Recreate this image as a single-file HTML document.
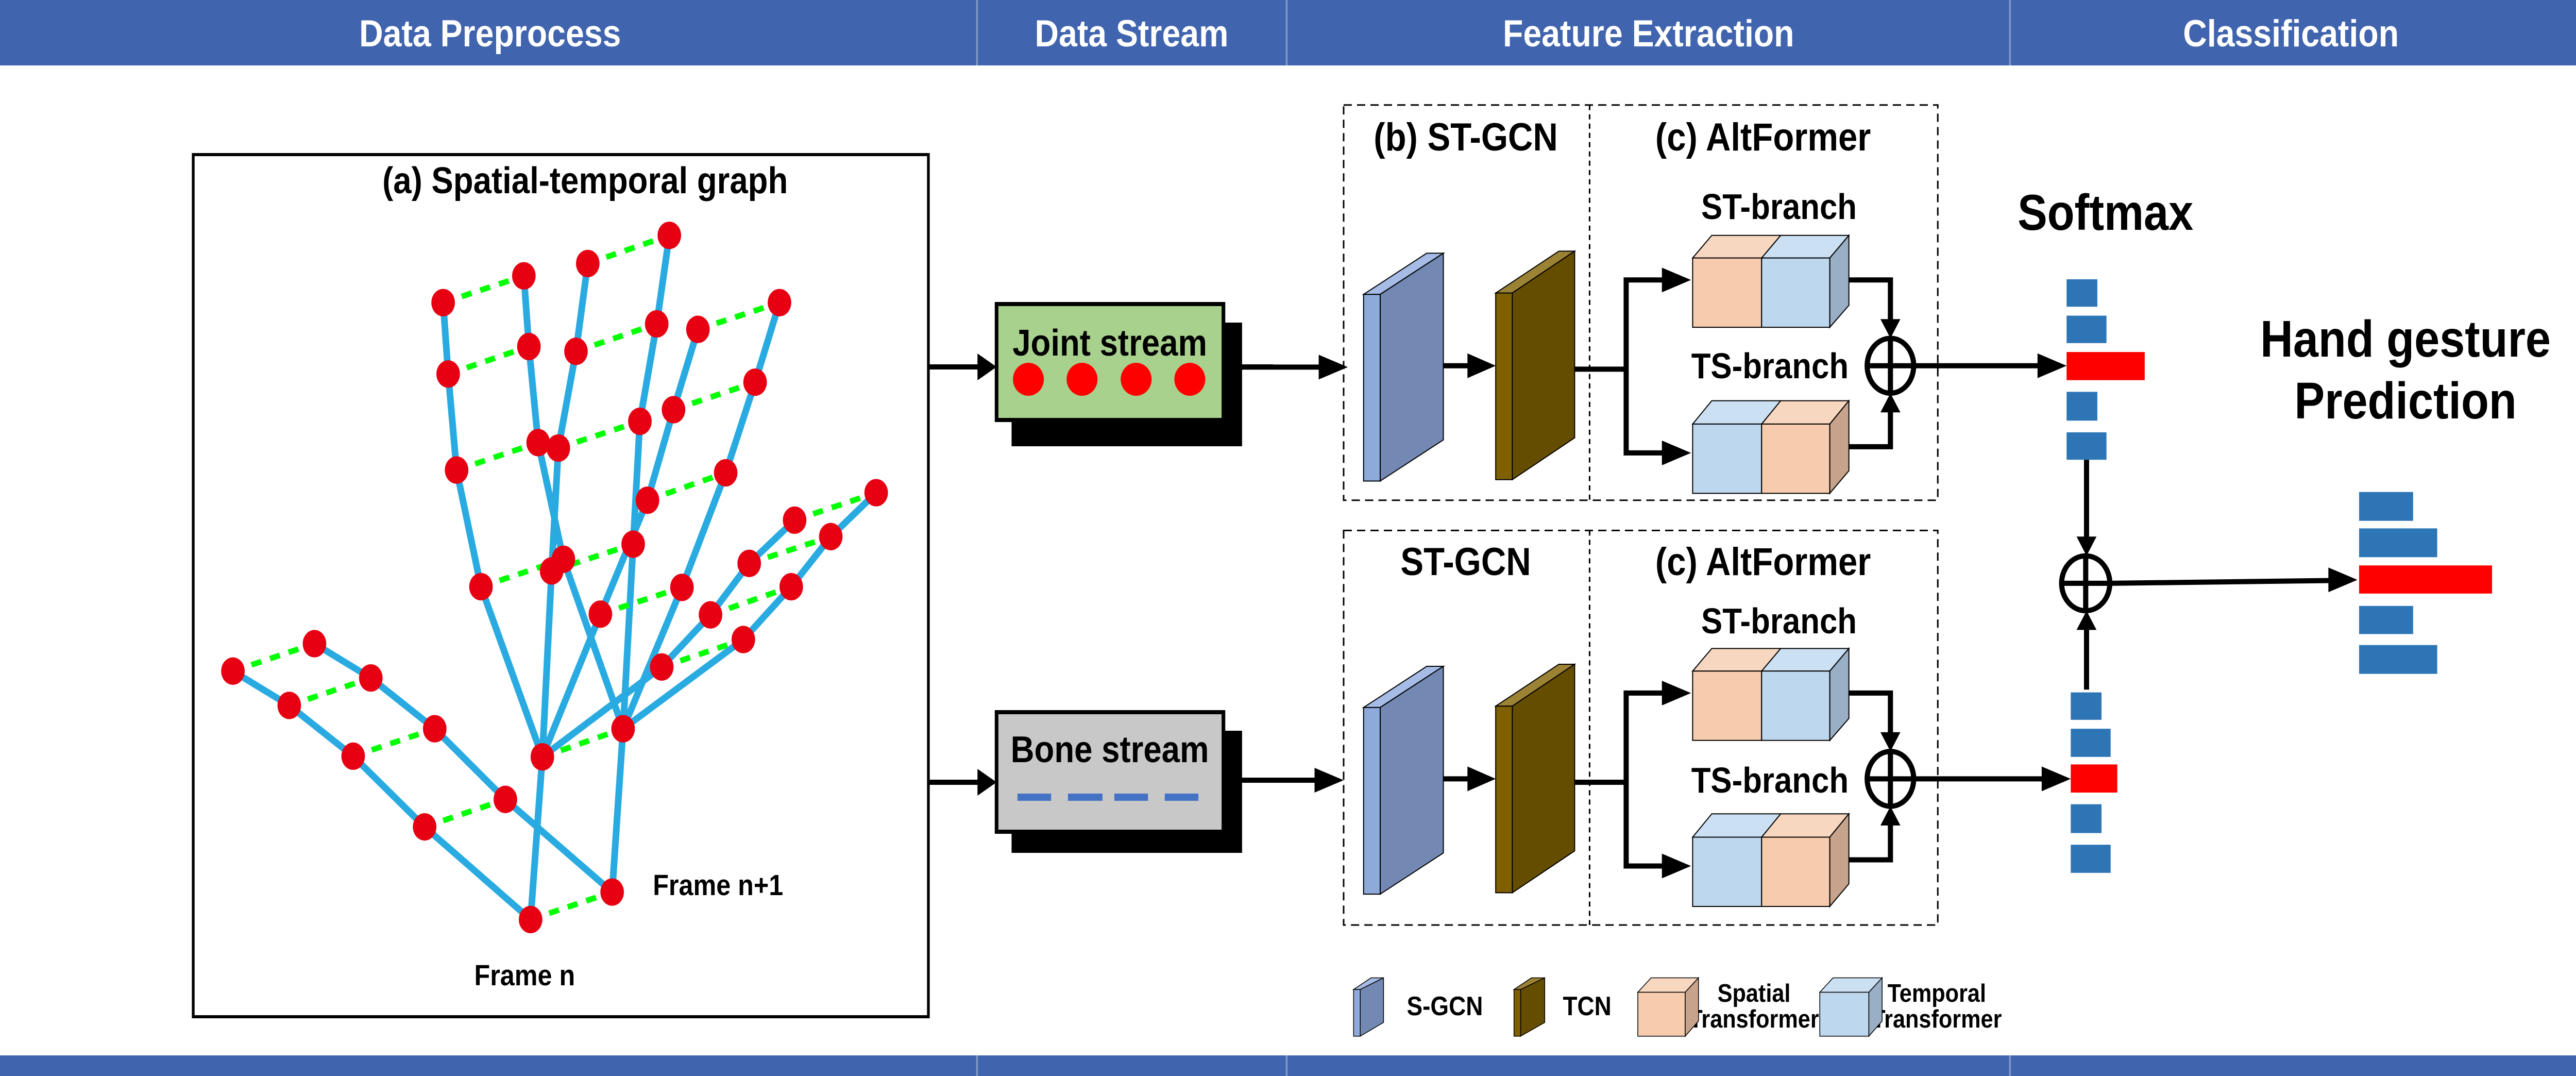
<!DOCTYPE html>
<html><head><meta charset="utf-8"><style>
html,body{margin:0;padding:0;background:#fff;width:100vw;height:100vh;overflow:hidden;}
svg{display:block;width:100vw;height:100vh;}
text{font-family:"Liberation Sans",Arial,sans-serif;font-weight:bold;}
</style></head><body>
<svg viewBox="0 0 5666 2088" preserveAspectRatio="none" xmlns="http://www.w3.org/2000/svg">
<rect x="0" y="0" width="5666" height="127" fill="#4064ad"/>
<rect x="0" y="2048" width="5666" height="40" fill="#4064ad"/>
<g stroke="#7f98c8" stroke-width="4">
<line x1="2149" y1="0" x2="2149" y2="127"/><line x1="2830" y1="0" x2="2830" y2="127"/><line x1="4421" y1="0" x2="4421" y2="127"/>
<line x1="2149" y1="2048" x2="2149" y2="2088"/><line x1="2830" y1="2048" x2="2830" y2="2088"/><line x1="4421" y1="2048" x2="4421" y2="2088"/>
</g>
<g fill="#fff" font-size="73" text-anchor="middle">
<text x="1078" y="90">Data Preprocess</text>
<text x="2489" y="90">Data Stream</text>
<text x="3626" y="90">Feature Extraction</text>
<text x="5039" y="90">Classification</text>
</g>

<rect x="425" y="300" width="1617" height="1673" fill="#fff" stroke="#000" stroke-width="6"/>
<text x="1287" y="375" font-size="72" text-anchor="middle">(a) Spatial-temporal graph</text>
<text x="1436" y="1737" font-size="57">Frame n+1</text>
<text x="1154" y="1912" font-size="57" text-anchor="middle">Frame n</text>

<g transform="scale(1.8495,1.3316)">
<g fill="none" stroke="#29abe2" stroke-width="13" stroke-linejoin="round">
<polyline vector-effect="non-scaling-stroke" points="631,1340 505,1205 420,1102 344,1028 277,978"/>
<polyline vector-effect="non-scaling-stroke" points="728,1300 601,1165 517,1062 441,988 374,938"/>
<polyline vector-effect="non-scaling-stroke" points="631,1340 645,1103"/>
<polyline vector-effect="non-scaling-stroke" points="728,1300 741,1062"/>
<polyline vector-effect="non-scaling-stroke" points="645,1103 572,855 543,685 533,545 527,441"/>
<polyline vector-effect="non-scaling-stroke" points="645,1103 656,832 664,653 685,512 699,384"/>
<polyline vector-effect="non-scaling-stroke" points="645,1103 714,895 770,729 801,597 830,480"/>
<polyline vector-effect="non-scaling-stroke" points="645,1103 787,972 845,896 891,821 945,758"/>
<polyline vector-effect="non-scaling-stroke" points="741,1062 670,815 640,645 629,505 623,402"/>
<polyline vector-effect="non-scaling-stroke" points="741,1062 753,793 761,614 781,472 796,343"/>
<polyline vector-effect="non-scaling-stroke" points="741,1062 811,856 863,689 898,557 927,441"/>
<polyline vector-effect="non-scaling-stroke" points="741,1062 884,932 941,855 988,782 1042,718"/>
</g>
<g stroke="#00ff00" stroke-width="11" stroke-dasharray="20 18">
<line vector-effect="non-scaling-stroke" x1="277" y1="978" x2="374" y2="938"/>
<line vector-effect="non-scaling-stroke" x1="344" y1="1028" x2="441" y2="988"/>
<line vector-effect="non-scaling-stroke" x1="420" y1="1102" x2="517" y2="1062"/>
<line vector-effect="non-scaling-stroke" x1="505" y1="1205" x2="601" y2="1165"/>
<line vector-effect="non-scaling-stroke" x1="631" y1="1340" x2="728" y2="1300"/>
<line vector-effect="non-scaling-stroke" x1="645" y1="1103" x2="741" y2="1062"/>
<line vector-effect="non-scaling-stroke" x1="527" y1="441" x2="623" y2="402"/>
<line vector-effect="non-scaling-stroke" x1="533" y1="545" x2="629" y2="505"/>
<line vector-effect="non-scaling-stroke" x1="543" y1="685" x2="640" y2="645"/>
<line vector-effect="non-scaling-stroke" x1="572" y1="855" x2="670" y2="815"/>
<line vector-effect="non-scaling-stroke" x1="699" y1="384" x2="796" y2="343"/>
<line vector-effect="non-scaling-stroke" x1="685" y1="512" x2="781" y2="472"/>
<line vector-effect="non-scaling-stroke" x1="664" y1="653" x2="761" y2="614"/>
<line vector-effect="non-scaling-stroke" x1="656" y1="832" x2="753" y2="793"/>
<line vector-effect="non-scaling-stroke" x1="714" y1="895" x2="811" y2="856"/>
<line vector-effect="non-scaling-stroke" x1="770" y1="729" x2="863" y2="689"/>
<line vector-effect="non-scaling-stroke" x1="801" y1="597" x2="898" y2="557"/>
<line vector-effect="non-scaling-stroke" x1="830" y1="480" x2="927" y2="441"/>
<line vector-effect="non-scaling-stroke" x1="787" y1="972" x2="884" y2="932"/>
<line vector-effect="non-scaling-stroke" x1="845" y1="896" x2="941" y2="855"/>
<line vector-effect="non-scaling-stroke" x1="891" y1="821" x2="988" y2="782"/>
<line vector-effect="non-scaling-stroke" x1="945" y1="758" x2="1042" y2="718"/>
</g>
<g fill="#e60012">
<ellipse cx="277" cy="978" rx="14" ry="20"/><ellipse cx="344" cy="1028" rx="14" ry="20"/><ellipse cx="420" cy="1102" rx="14" ry="20"/><ellipse cx="505" cy="1205" rx="14" ry="20"/><ellipse cx="631" cy="1340" rx="14" ry="20"/>
<ellipse cx="374" cy="938" rx="14" ry="20"/><ellipse cx="441" cy="988" rx="14" ry="20"/><ellipse cx="517" cy="1062" rx="14" ry="20"/><ellipse cx="601" cy="1165" rx="14" ry="20"/><ellipse cx="728" cy="1300" rx="14" ry="20"/>
<ellipse cx="645" cy="1103" rx="14" ry="20"/><ellipse cx="741" cy="1062" rx="14" ry="20"/>
<ellipse cx="572" cy="855" rx="14" ry="20"/><ellipse cx="543" cy="685" rx="14" ry="20"/><ellipse cx="533" cy="545" rx="14" ry="20"/><ellipse cx="527" cy="441" rx="14" ry="20"/>
<ellipse cx="656" cy="832" rx="14" ry="20"/><ellipse cx="664" cy="653" rx="14" ry="20"/><ellipse cx="685" cy="512" rx="14" ry="20"/><ellipse cx="699" cy="384" rx="14" ry="20"/>
<ellipse cx="714" cy="895" rx="14" ry="20"/><ellipse cx="770" cy="729" rx="14" ry="20"/><ellipse cx="801" cy="597" rx="14" ry="20"/><ellipse cx="830" cy="480" rx="14" ry="20"/>
<ellipse cx="787" cy="972" rx="14" ry="20"/><ellipse cx="845" cy="896" rx="14" ry="20"/><ellipse cx="891" cy="821" rx="14" ry="20"/><ellipse cx="945" cy="758" rx="14" ry="20"/>
<ellipse cx="670" cy="815" rx="14" ry="20"/><ellipse cx="640" cy="645" rx="14" ry="20"/><ellipse cx="629" cy="505" rx="14" ry="20"/><ellipse cx="623" cy="402" rx="14" ry="20"/>
<ellipse cx="753" cy="793" rx="14" ry="20"/><ellipse cx="761" cy="614" rx="14" ry="20"/><ellipse cx="781" cy="472" rx="14" ry="20"/><ellipse cx="796" cy="343" rx="14" ry="20"/>
<ellipse cx="811" cy="856" rx="14" ry="20"/><ellipse cx="863" cy="689" rx="14" ry="20"/><ellipse cx="898" cy="557" rx="14" ry="20"/><ellipse cx="927" cy="441" rx="14" ry="20"/>
<ellipse cx="884" cy="932" rx="14" ry="20"/><ellipse cx="941" cy="855" rx="14" ry="20"/><ellipse cx="988" cy="782" rx="14" ry="20"/><ellipse cx="1042" cy="718" rx="14" ry="20"/>
</g>
</g>

<rect x="2225" y="626" width="507" height="240" fill="#000"/>
<rect x="2192" y="590" width="499" height="225" fill="#a9d18e" stroke="#000" stroke-width="8"/>
<text x="2441" y="690" font-size="72" text-anchor="middle">Joint stream</text>
<g fill="#ff0000"><ellipse cx="2262" cy="736" rx="34" ry="32"/><ellipse cx="2380" cy="736" rx="34" ry="32"/><ellipse cx="2499" cy="736" rx="34" ry="32"/><ellipse cx="2617" cy="736" rx="34" ry="32"/></g>
<rect x="2225" y="1418" width="507" height="237" fill="#000"/>
<rect x="2192" y="1382" width="499" height="232" fill="#c8c8c8" stroke="#000" stroke-width="8"/>
<text x="2441" y="1479" font-size="72" text-anchor="middle">Bone stream</text>
<g stroke="#4472c4" stroke-width="14"><line x1="2238" y1="1547" x2="2312" y2="1547"/><line x1="2349" y1="1547" x2="2425" y2="1547"/><line x1="2451" y1="1547" x2="2525" y2="1547"/><line x1="2562" y1="1547" x2="2636" y2="1547"/></g>
<g stroke="#000" stroke-width="10"><line x1="2042" y1="712" x2="2160" y2="712"/><line x1="2042" y1="1518" x2="2160" y2="1518"/></g>
<polygon points="2150,686 2192,712 2150,738" fill="#000"/>
<polygon points="2150,1492 2192,1518 2150,1544" fill="#000"/>

<g font-size="76" text-anchor="middle">
<text x="3224" y="292">(b) ST-GCN</text>
<text x="3878" y="292">(c) AltFormer</text>
<text x="3913" y="425" font-size="70">ST-branch</text>
<text x="3893" y="734" font-size="70">TS-branch</text>
<text x="3224" y="1116">ST-GCN</text>
<text x="3878" y="1116">(c) AltFormer</text>
<text x="3913" y="1229" font-size="70">ST-branch</text>
<text x="3893" y="1538" font-size="70">TS-branch</text>
<text x="4631" y="446" font-size="98">Softmax</text>
<text x="5291" y="692" font-size="100">Hand gesture</text>
<text x="5291" y="812" font-size="100">Prediction</text>
</g>
<g font-size="52" text-anchor="middle">
<text x="3178" y="1970">S-GCN</text>
<text x="3491" y="1970">TCN</text>
<text x="3858" y="1944" font-size="49">Spatial</text>
<text x="3858" y="1994" font-size="49">Transformer</text>
<text x="4260" y="1944" font-size="49">Temporal</text>
<text x="4260" y="1994" font-size="49">Transformer</text>
</g>

<g transform="translate(2800,0) scale(1.8278,1.3316)">
<g fill="none" stroke="#000" stroke-width="3" stroke-dasharray="16 10">
<rect vector-effect="non-scaling-stroke" x="85" y="153" width="715" height="576"/>
<line vector-effect="non-scaling-stroke" x1="381" y1="153" x2="381" y2="729" stroke-dasharray="10 8"/>
<rect vector-effect="non-scaling-stroke" x="85" y="773" width="715" height="575"/>
<line vector-effect="non-scaling-stroke" x1="381" y1="773" x2="381" y2="1348" stroke-dasharray="10 8"/>
</g>
<g id="unit">
<g stroke="#000" stroke-width="2">
<polygon vector-effect="non-scaling-stroke" points="109,429 185,369 205,369 129,429" fill="#a6bce6"/>
<polygon vector-effect="non-scaling-stroke" points="129,429 205,369 205,641 129,701" fill="#7389b3"/>
<rect vector-effect="non-scaling-stroke" x="109" y="429" width="20" height="272" fill="#8eaadb"/>
<polygon vector-effect="non-scaling-stroke" points="268,427 344,366 363,366 288,427" fill="#9c8235"/>
<polygon vector-effect="non-scaling-stroke" points="288,427 363,366 363,638 288,699" fill="#654d00"/>
<rect vector-effect="non-scaling-stroke" x="268" y="427" width="20" height="272" fill="#7f6000"/>
<polygon vector-effect="non-scaling-stroke" points="505,376 528,343 611,343 588,376" fill="#f8d7c1"/>
<polygon vector-effect="non-scaling-stroke" points="588,376 611,343 693,343 670,376" fill="#cce0f4"/>
<polygon vector-effect="non-scaling-stroke" points="670,376 693,343 693,445 670,477" fill="#99afc5"/>
<rect vector-effect="non-scaling-stroke" x="505" y="376" width="83" height="101" fill="#f7cbad"/>
<rect vector-effect="non-scaling-stroke" x="588" y="376" width="82" height="101" fill="#bdd7ee"/>
<polygon vector-effect="non-scaling-stroke" points="505,618 528,584 611,584 588,618" fill="#cce0f4"/>
<polygon vector-effect="non-scaling-stroke" points="588,618 611,584 693,584 670,618" fill="#f8d7c1"/>
<polygon vector-effect="non-scaling-stroke" points="670,618 693,584 693,686 670,719" fill="#c8a38b"/>
<rect vector-effect="non-scaling-stroke" x="505" y="618" width="83" height="101" fill="#bdd7ee"/>
<rect vector-effect="non-scaling-stroke" x="588" y="618" width="82" height="101" fill="#f7cbad"/>
</g>
<g fill="none" stroke="#000" stroke-width="10">
<line vector-effect="non-scaling-stroke" x1="205" y1="533" x2="240" y2="533"/>
<polyline vector-effect="non-scaling-stroke" points="363,538 425,538"/>
<polyline vector-effect="non-scaling-stroke" points="470,408 425,408 425,660 470,660"/>
<polyline vector-effect="non-scaling-stroke" points="693,408 743,408 743,470"/>
<polyline vector-effect="non-scaling-stroke" points="693,651 743,651 743,595"/>
<ellipse vector-effect="non-scaling-stroke" cx="743" cy="533" rx="28" ry="40"/>
<line vector-effect="non-scaling-stroke" x1="743" y1="493" x2="743" y2="573"/>
<line vector-effect="non-scaling-stroke" x1="715" y1="533" x2="771" y2="533"/>
</g>
<g fill="#000">
<polygon points="234,515 268,533 234,551"/>
<polygon points="468,390 503,408 468,426"/>
<polygon points="468,642 503,660 468,678"/>
<polygon points="731,465 743,493 755,465"/>
<polygon points="731,601 743,573 755,601"/>
</g>
</g>
<use href="#unit" transform="translate(0,602)"/>
<g stroke="#000" stroke-width="10">
<line vector-effect="non-scaling-stroke" x1="-40" y1="535" x2="60" y2="535"/>
<line vector-effect="non-scaling-stroke" x1="-40" y1="1137" x2="55" y2="1137"/>
<line vector-effect="non-scaling-stroke" x1="771" y1="533" x2="925" y2="533"/>
<line vector-effect="non-scaling-stroke" x1="771" y1="1135" x2="930" y2="1135"/>
<line vector-effect="non-scaling-stroke" x1="979" y1="670" x2="979" y2="785"/>
<line vector-effect="non-scaling-stroke" x1="979" y1="1005" x2="979" y2="915"/>
<line vector-effect="non-scaling-stroke" x1="1008" y1="850" x2="1275" y2="846"/>
<ellipse vector-effect="non-scaling-stroke" cx="978" cy="850" rx="29" ry="40" fill="none"/>
<line vector-effect="non-scaling-stroke" x1="978" y1="810" x2="978" y2="890"/>
<line vector-effect="non-scaling-stroke" x1="949" y1="850" x2="1007" y2="850"/>
</g>
<g fill="#000">
<polygon points="55,517 90,535 55,553"/>
<polygon points="50,1119 85,1137 50,1155"/>
<polygon points="920,515 955,533 920,551"/>
<polygon points="925,1117 960,1135 925,1153"/>
<polygon points="967,782 979,810 991,782"/>
<polygon points="967,918 979,890 991,918"/>
<polygon points="1270,827 1305,845 1270,863"/>
</g>
<g fill="#2e75b6">
<rect x="955" y="407" width="37" height="40"/><rect x="955" y="460" width="48" height="40"/><rect x="955" y="571" width="37" height="42"/><rect x="955" y="630" width="48" height="40"/>
<rect x="960" y="1009" width="37" height="40"/><rect x="960" y="1062" width="48" height="41"/><rect x="960" y="1172" width="37" height="42"/><rect x="960" y="1231" width="48" height="41"/>
<rect x="1307" y="717" width="65" height="42"/><rect x="1307" y="770" width="94" height="42"/><rect x="1307" y="883" width="65" height="41"/><rect x="1307" y="940" width="94" height="42"/>
</g>
<g fill="#ff0000">
<rect x="955" y="513" width="94" height="41"/><rect x="960" y="1114" width="56" height="41"/><rect x="1307" y="824" width="160" height="41"/>
</g>
<g stroke="#000" stroke-width="1.5">
<polygon vector-effect="non-scaling-stroke" points="97,1442 118,1425 133,1425 105,1442" fill="#a6bce6"/>
<polygon vector-effect="non-scaling-stroke" points="105,1442 133,1425 133,1490 105,1510" fill="#7389b3"/>
<rect vector-effect="non-scaling-stroke" x="97" y="1442" width="8" height="68" fill="#8eaadb"/>
<polygon vector-effect="non-scaling-stroke" points="290,1442 311,1425 327,1425 298,1442" fill="#9c8235"/>
<polygon vector-effect="non-scaling-stroke" points="298,1442 327,1425 327,1490 298,1510" fill="#654d00"/>
<rect vector-effect="non-scaling-stroke" x="290" y="1442" width="8" height="68" fill="#7f6000"/>
<polygon vector-effect="non-scaling-stroke" points="439,1446 455,1425 512,1425 496,1446" fill="#f8d7c1"/>
<polygon vector-effect="non-scaling-stroke" points="496,1446 512,1425 512,1488 496,1510" fill="#c8a38b"/>
<rect vector-effect="non-scaling-stroke" x="439" y="1446" width="57" height="64" fill="#f7cbad"/>
<polygon vector-effect="non-scaling-stroke" points="658,1446 674,1425 733,1425 717,1446" fill="#cce0f4"/>
<polygon vector-effect="non-scaling-stroke" points="717,1446 733,1425 733,1488 717,1510" fill="#99afc5"/>
<rect vector-effect="non-scaling-stroke" x="658" y="1446" width="59" height="64" fill="#bdd7ee"/>
</g>
</g>
<g stroke="#000" stroke-width="10"><line x1="2732" y1="712" x2="2800" y2="712"/><line x1="2732" y1="1514" x2="2800" y2="1514"/></g>
</svg>
</body></html>
